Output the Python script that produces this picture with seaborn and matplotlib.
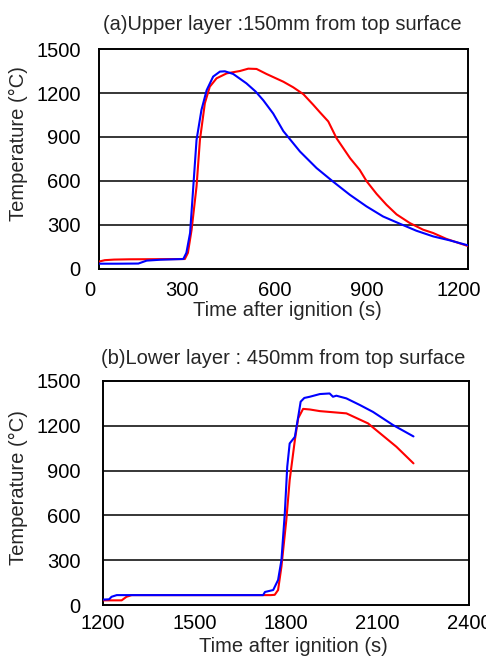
import numpy as np
import pandas as pd
import matplotlib
matplotlib.use("Agg")
import matplotlib.pyplot as plt
import matplotlib.transforms as mtransforms
import seaborn as sns

# ---------------------------
# data
# ---------------------------

# (a) upper layer, 150 mm from top surface
upper_red_t = [0, 20, 50, 100, 200, 280, 290, 302, 318, 329, 345, 361, 383, 416, 459,
               486, 513, 545, 600, 632, 665, 697, 719, 746, 773, 817, 848, 871, 903,
               935, 968, 1011, 1054, 1087, 1130, 1200]
upper_red_T = [50, 60, 64, 66, 67, 68, 110, 268, 563, 880, 1130, 1243, 1300, 1334, 1350,
               1366, 1364, 1330, 1277, 1239, 1192, 1120, 1068, 1006, 891, 755, 676, 597,
               512, 438, 372, 313, 268, 245, 205, 156]

upper_blue_t = [0, 60, 129, 156, 200, 275, 285, 297, 318, 334, 351, 372, 394, 410, 437,
                480, 510, 535, 567, 600, 654, 708, 762, 816, 870, 924, 978, 1032, 1087,
                1141, 1200]
upper_blue_T = [36, 36, 37, 57, 63, 68, 110, 245, 880, 1085, 1220, 1312, 1346, 1348, 1330,
                1266, 1210, 1150, 1060, 940, 801, 688, 595, 506, 427, 358, 309, 261, 222,
                195, 161]

# (b) lower layer, 450 mm from top surface
lower_red_t = [1200, 1230, 1261, 1277, 1294, 1400, 1600, 1750, 1763, 1774, 1785, 1801,
               1812, 1829, 1840, 1856, 1878, 1911, 1998, 2069, 2162, 2218]
lower_red_T = [33, 33, 33, 57, 68, 68, 68, 68, 70, 102, 258, 569, 836, 1103, 1250,
               1312, 1308, 1297, 1282, 1215, 1059, 948]

lower_blue_t = [1200, 1220, 1228, 1245, 1400, 1600, 1725, 1731, 1758, 1774, 1785, 1796,
                1804, 1812, 1829, 1840, 1848, 1860, 1878, 1911, 1943, 1954, 1965, 1998,
                2042, 2085, 2151, 2218]
lower_blue_T = [38, 40, 57, 68, 68, 68, 68, 89, 102, 169, 302, 614, 925, 1081, 1125,
                1259, 1360, 1385, 1393, 1411, 1415, 1393, 1400, 1382, 1338, 1292, 1204, 1128]

y_ticks = [0, 300, 600, 900, 1200, 1500]
upper_x_ticks = [0, 300, 600, 900, 1200]
lower_x_ticks = [1200, 1500, 1800, 2100, 2400]

titles = ["(a)Upper layer :150mm from top surface",
          "(b)Lower layer : 450mm from top surface"]

RED = "#ff0000"
BLUE = "#0000ff"

sns.set_style("white")
plt.rcParams["font.family"] = ["Liberation Sans", "DejaVu Sans"]

fig = plt.figure(figsize=(4.86, 6.57), dpi=100)
ax_a = fig.add_axes([0.203, 0.5906, 0.760, 0.3348])
ax_b = fig.add_axes([0.212, 0.0787, 0.753, 0.3418])


def draw_panel(ax, red_t, red_T, blue_t, blue_T, xlim, ypad):
    red = pd.DataFrame({"t": red_t, "T": red_T})
    blue = pd.DataFrame({"t": blue_t, "T": blue_T})
    sns.lineplot(data=red, x="t", y="T", color=RED, lw=1.5, ax=ax, zorder=3)
    sns.lineplot(data=blue, x="t", y="T", color=BLUE, lw=1.5, ax=ax, zorder=4)
    ax.set_xlim(*xlim)
    ax.set_ylim(0, 1500)
    ax.set_yticks(y_ticks)
    for v in y_ticks[1:-1]:
        ax.axhline(v, color="black", lw=1.1, zorder=1)
    for s in ax.spines.values():
        s.set_color("black")
        s.set_linewidth(1.4)
    ax.tick_params(axis="both", labelsize=14.5, colors="black")
    ax.tick_params(axis="y", length=0, pad=ypad)
    ax.set_ylabel("Temperature (°C)", fontsize=14.5)
    ax.set_xlabel("Time after ignition (s)", fontsize=14.5)


draw_panel(ax_a, upper_red_t, upper_red_T, upper_blue_t, upper_blue_T, (0, 1200), 13)
ax_a.set_xticks(upper_x_ticks)
ax_a.tick_params(axis="x", direction="out", length=4, width=1.2, pad=5)
shift = mtransforms.ScaledTranslation(-9 / 100, 0, fig.dpi_scale_trans)
for lab in ax_a.get_xticklabels():
    lab.set_transform(lab.get_transform() + shift)
ax_a.yaxis.set_label_coords(-0.19, 0.57)
ax_a.xaxis.set_label_coords(0.51, -0.145)

draw_panel(ax_b, lower_red_t, lower_red_T, lower_blue_t, lower_blue_T, (1200, 2400), 16)
ax_b.set_xticks(lower_x_ticks)
ax_b.tick_params(axis="x", which="major", length=0, pad=6)
ax_b.set_xticks(np.linspace(1200, 2400, 10)[1:-1], minor=True)
ax_b.tick_params(axis="x", which="minor", direction="in", length=4, width=1.2)
ax_b.yaxis.set_label_coords(-0.205, 0.524)
ax_b.xaxis.set_label_coords(0.52, -0.142)

fig.text(0.580, 0.962, titles[0], ha="center", va="center", fontsize=14.5)
fig.text(0.582, 0.4536, titles[1], ha="center", va="center", fontsize=14.5)

fig.savefig("out.png", dpi=100)
